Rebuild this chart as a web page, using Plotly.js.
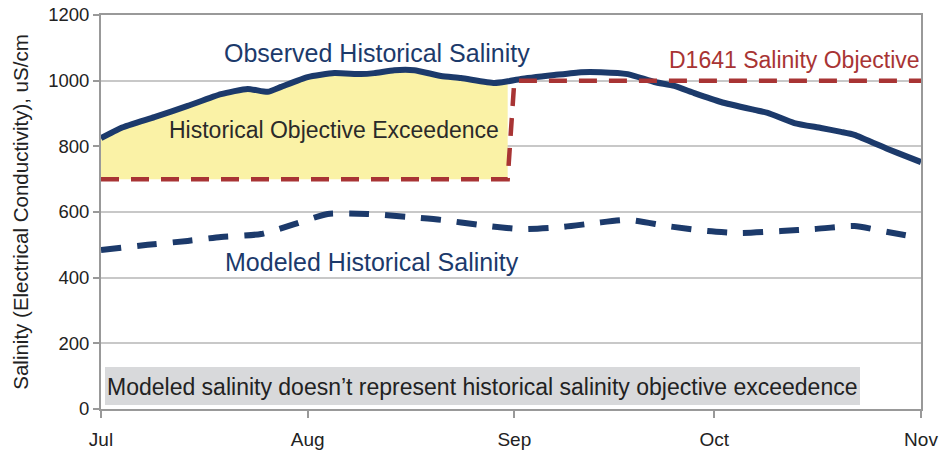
<!DOCTYPE html>
<html>
<head>
<meta charset="utf-8">
<script src="https://cdn.plot.ly/plotly-3.0.1.min.js"></script>
<style>html,body{margin:0;padding:0;background:#fff;}#chart{width:945px;height:453px;}</style>
</head>
<body>
<div id="chart"></div>
<script>
// Observed historical salinity (EC, uS/cm)
var obsDates = ['2010-07-01','2010-07-04','2010-07-09','2010-07-14','2010-07-19','2010-07-23','2010-07-26','2010-07-28',
  '2010-08-01','2010-08-05','2010-08-09','2010-08-11','2010-08-14','2010-08-17','2010-08-21','2010-08-24','2010-08-29','2010-08-31',
  '2010-09-02','2010-09-07','2010-09-11','2010-09-14','2010-09-18','2010-09-22','2010-09-25','2010-09-28',
  '2010-10-02','2010-10-07','2010-10-09','2010-10-13','2010-10-17','2010-10-20','2010-10-22','2010-10-27','2010-10-30','2010-11-01'];
var obsValues = [825,856,889,923,959,975,966,981,
  1011,1023,1020,1023,1032,1032,1014,1008,993,998,
  1005,1017,1026,1026,1020,996,984,962,
  935,911,902,871,856,844,835,792,768,752];

// Modeled historical salinity
var modDates = ['2010-07-01','2010-07-08','2010-07-14','2010-07-19','2010-07-25','2010-07-30',
  '2010-08-04','2010-08-10','2010-08-16','2010-08-21','2010-08-27',
  '2010-09-02','2010-09-08','2010-09-13','2010-09-18','2010-09-24','2010-09-30',
  '2010-10-05','2010-10-11','2010-10-16','2010-10-22','2010-10-27','2010-11-01'];
var modValues = [484,500,512,524,533,563,
  594,594,585,576,560,
  548,554,566,576,557,542,
  536,542,548,557,539,521];

// D1641 salinity objective
var objDates = ['2010-07-01','2010-08-31','2010-09-01','2010-11-01'];
var objValues = [700,700,1000,1000];

// Exceedence period (objective 700 level, Jul 1 - Aug 31)
var excStart = '2010-07-01', excEnd = '2010-08-31';

var tickVals = ['2010-07-01','2010-08-01','2010-09-01','2010-10-01','2010-11-01'];
var tickText = ['Jul','Aug','Sep','Oct','Nov'];

// subsets for the fill
var fillX = [], fillY = [];
for (var i = 0; i < obsDates.length; i++) {
  if (obsDates[i] >= excStart && obsDates[i] <= excEnd) { fillX.push(obsDates[i]); fillY.push(obsValues[i]); }
}
var baseX = [objDates[0], objDates[1]], baseY = [objValues[0], objValues[1]];

var navy = '#1c3a6b', red = '#a83434';
var font = 'Liberation Sans, Arial, sans-serif';

var traces = [
  {x: baseX, y: baseY, mode: 'lines', line: {width: 0, color: 'rgba(0,0,0,0)'}, hoverinfo: 'skip', showlegend: false},
  {x: fillX, y: fillY, mode: 'lines', fill: 'tonexty', fillcolor: '#faf2a6', line: {width: 0, color: 'rgba(0,0,0,0)'}, showlegend: false},
  {x: modDates, y: modValues, mode: 'lines', line: {color: navy, width: 6, dash: '20px,16px', shape: 'spline', smoothing: 0.6}, showlegend: false},
  {x: obsDates, y: obsValues, mode: 'lines', line: {color: navy, width: 6, shape: 'spline', smoothing: 0.5}, showlegend: false},
  {x: objDates, y: objValues, mode: 'lines', line: {color: red, width: 4.5, dash: '18px,12px'}, showlegend: false}
];

function px(x) { return (x - 101) / 820; }
function py(y) { return (409 - y) / 394; }

function note(x, y, text, size, color, xanchor) {
  return {xref: 'paper', yref: 'paper', x: px(x), y: py(y), xanchor: xanchor || 'center', yanchor: 'middle',
    text: text, showarrow: false, font: {size: size, color: color, family: font}};
}

var layout = {
  width: 945, height: 453,
  margin: {l: 101, r: 24, t: 15, b: 44, pad: 0},
  paper_bgcolor: '#fff', plot_bgcolor: '#fff',
  font: {family: font, color: '#222', size: 17},
  showlegend: false,
  xaxis: {
    type: 'date', range: ['2010-07-01', '2010-11-01'],
    tickvals: tickVals, ticktext: tickText,
    ticks: 'outside', ticklen: 7, tickwidth: 2, tickcolor: '#999',
    showline: true, linecolor: '#999', linewidth: 2, mirror: true,
    showgrid: false, zeroline: false, ticklabelstandoff: 5,
    tickfont: {size: 19, color: '#222', family: font}
  },
  yaxis: {
    range: [0, 1200], tickvals: [0,200,400,600,800,1000,1200],
    ticks: 'outside', ticklen: 6, tickwidth: 2, tickcolor: '#999',
    showline: true, linecolor: '#999', linewidth: 2, mirror: true,
    showgrid: true, gridcolor: '#c8c8c8', gridwidth: 2, zeroline: false,
    tickfont: {size: 18.5, color: '#222', family: font},
    title: {text: 'Salinity (Electrical Conductivity), uS/cm', font: {size: 20.5, color: '#222', family: font}, standoff: 14}
  },
  shapes: [
    {type: 'rect', xref: 'paper', yref: 'paper', x0: px(105), x1: px(860), y0: py(405), y1: py(367),
     fillcolor: '#d8d9db', line: {width: 0}, layer: 'below'}
  ],
  annotations: [
    note(377, 53, 'Observed Historical Salinity', 25, navy),
    note(922, 60, 'D1641 Salinity Objective', 23, red, 'right'),
    note(334, 130, 'Historical Objective Exceedence', 23, '#2a2a2a'),
    note(372, 262, 'Modeled Historical Salinity', 25, navy),
    note(482, 387, 'Modeled salinity doesn\u2019t represent historical salinity objective exceedence', 23, '#222')
  ]
};

Plotly.newPlot('chart', traces, layout, {displayModeBar: false, staticPlot: true});
</script>
</body>
</html>
